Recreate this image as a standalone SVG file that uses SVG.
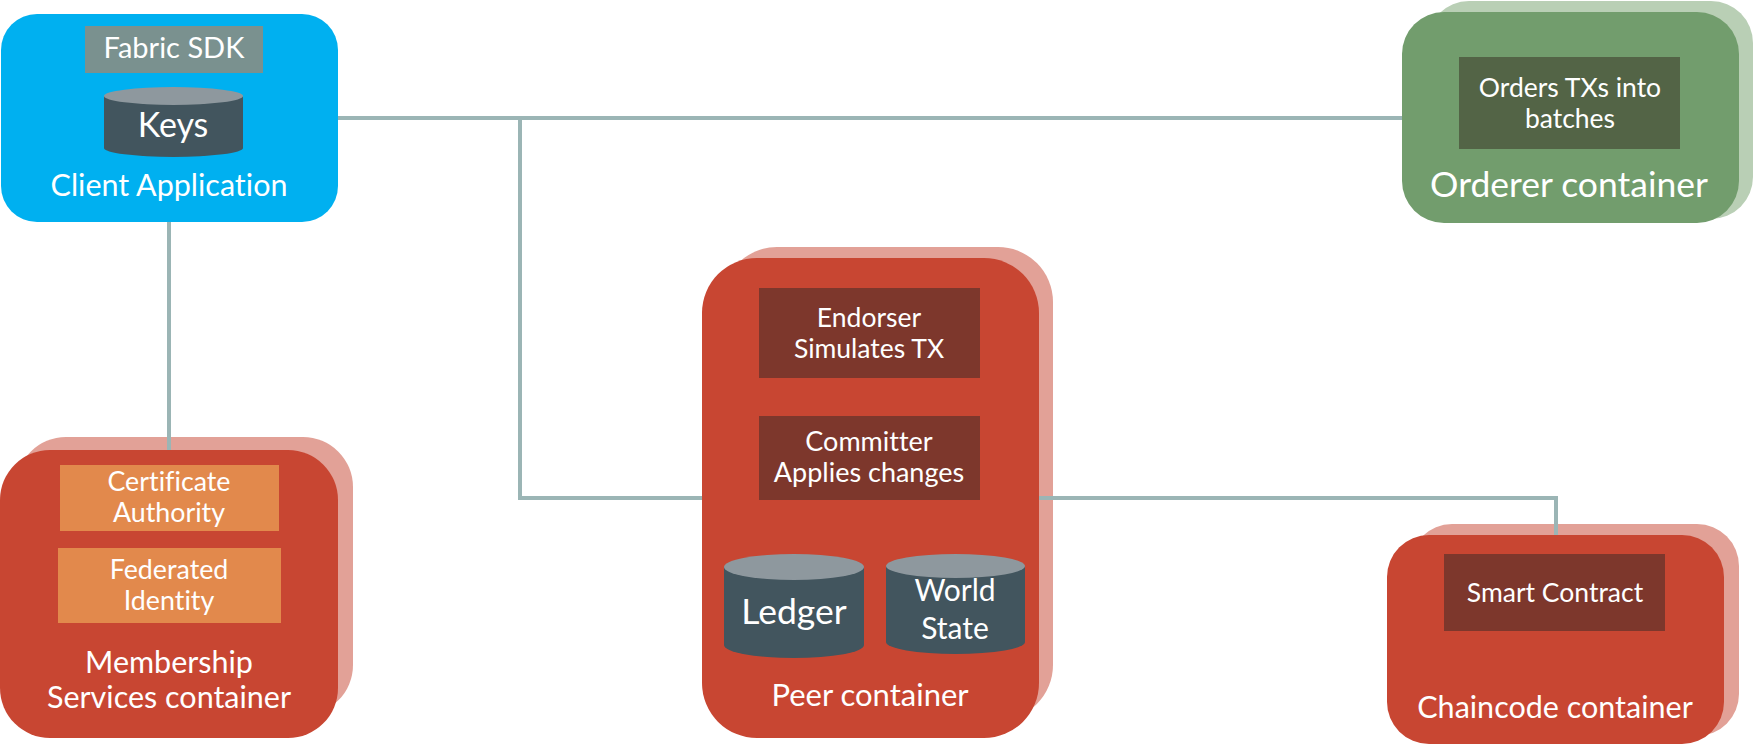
<svg xmlns="http://www.w3.org/2000/svg" width="1754" height="747" viewBox="0 0 1754 747">
<style>
text{font-family:Lato,"Liberation Sans",sans-serif;fill:#fff;text-anchor:middle;font-variant-ligatures:none}
.t26{font-size:26.500px}.t27{font-size:26.800px}.t29{font-size:30.500px}.t33{font-size:35.500px}
.red{fill:#c84632}.redb{fill:#e2a197}.dark{fill:#7d372c}.or{fill:#e2894c}
.cb{fill:#42555e}.ct{fill:#8e989e}
.conn{fill:none;stroke:#9bb5b5;stroke-width:4;stroke-linejoin:miter}
</style>
<g id="back-shapes">
<rect class="redb" x="16" y="437" width="337" height="278" rx="50"/>
<rect class="redb" x="722" y="247" width="331" height="473" rx="55"/>
<rect x="1427" y="1" width="326" height="218" rx="42" fill="#b9cfb5"/>
<rect class="redb" x="1410" y="524" width="329" height="212" rx="42"/>
</g>
<g id="connectors">
<path class="conn" d="M338 118H1402"/>
<path class="conn" d="M520 118V498H702"/>
<path class="conn" d="M169 222V450"/>
<path class="conn" d="M1039 498H1556V554"/>
</g>
<g id="client">
<rect x="1" y="14" width="337" height="208" rx="36" fill="#00b0f0"/>
<rect x="85" y="26" width="178" height="47" fill="#7a918f"/>
<text x="174" y="58" font-size="29px">Fabric SDK</text>
<path class="cb" d="M104 96V148A69.5 9 0 0 0 243 148V96Z"/>
<ellipse class="ct" cx="173.500" cy="96" rx="69.500" ry="9"/>
<text x="173" y="137" font-size="34px">Keys</text>
<text class="t29" x="169" y="196">Client Application</text>
</g>
<g id="membership">
<rect class="red" x="0" y="450" width="338" height="288" rx="50"/>
<rect class="or" x="60" y="465" width="219" height="66"/>
<text class="t27" x="169" y="491">Certificate</text>
<text class="t27" x="169" y="522">Authority</text>
<rect class="or" x="58" y="548" width="223" height="75"/>
<text class="t27" x="169" y="579">Federated</text>
<text class="t27" x="169" y="610">Identity</text>
<text class="t29" x="169" y="673">Membership</text>
<text class="t29" x="169" y="708">Services container</text>
</g>
<g id="peer">
<rect class="red" x="702" y="258" width="337" height="480" rx="55"/>
<rect class="dark" x="759" y="288" width="221" height="90"/>
<text class="t26" x="869" y="327">Endorser</text>
<text class="t26" x="869" y="358">Simulates TX</text>
<rect class="dark" x="759" y="416" width="221" height="84"/>
<text x="869" y="451" font-size="27px">Committer</text>
<text x="869" y="482" font-size="27px">Applies changes</text>
<path class="cb" d="M724 567V645A70 13 0 0 0 864 645V567Z"/>
<ellipse class="ct" cx="794" cy="567" rx="70" ry="13"/>
<text class="t33" x="794" y="624">Ledger</text>
<path class="cb" d="M886 566V642A69.500 12 0 0 0 1025 642V566Z"/>
<ellipse class="ct" cx="955.500" cy="566" rx="69.500" ry="12"/>
<text x="955" y="601" font-size="30px">World</text>
<text x="955" y="639" font-size="30px">State</text>
<text x="870" y="706" font-size="31px">Peer container</text>
</g>
<g id="orderer">
<rect x="1402" y="12" width="337" height="211" rx="42" fill="#729d6d"/>
<rect x="1459" y="57" width="221" height="92" fill="#536446"/>
<text class="t26" x="1570" y="97">Orders TXs into</text>
<text class="t26" x="1570" y="128">batches</text>
<text class="t33" x="1569" y="197">Orderer container</text>
</g>
<g id="chaincode">
<rect class="red" x="1387" y="535" width="337" height="209" rx="42"/>
<rect class="dark" x="1444" y="554" width="221" height="77"/>
<text class="t26" x="1555" y="602">Smart Contract</text>
<text class="t29" x="1555" y="718">Chaincode container</text>
</g>
</svg>
